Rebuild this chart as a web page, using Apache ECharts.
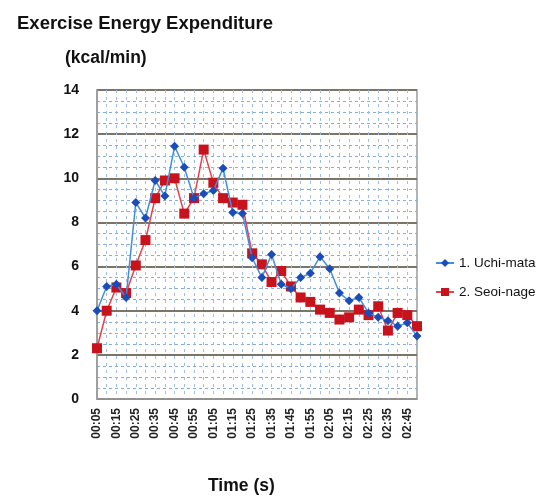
<!DOCTYPE html>
<html>
<head>
<meta charset="utf-8">
<script src="https://cdn.jsdelivr.net/npm/echarts@6/dist/echarts.min.js"></script>
<style>
html,body{margin:0;padding:0;background:#fff;}
#chart{width:544px;height:501px;}
</style>
</head>
<body>
<div id="chart"></div>
<script>
var times = ['00:05','00:10','00:15','00:20','00:25','00:30','00:35','00:40','00:45','00:50',
             '00:55','01:00','01:05','01:10','01:15','01:20','01:25','01:30','01:35','01:40',
             '01:45','01:50','01:55','02:00','02:05','02:10','02:15','02:20','02:25','02:30',
             '02:35','02:40','02:45','02:50'];
var uchiMata = [4.0,5.1,5.2,4.6,8.9,8.2,9.9,9.2,11.45,10.5,
                9.1,9.3,9.45,10.45,8.45,8.4,6.4,5.5,6.55,5.2,
                5.0,5.5,5.7,6.45,5.9,4.8,4.45,4.6,3.9,3.7,
                3.55,3.3,3.45,2.85];
var seoiNage = [2.3,4.0,5.05,4.8,6.05,7.2,9.1,9.9,10.0,8.4,
                9.1,11.3,9.8,9.1,8.9,8.8,6.6,6.1,5.3,5.8,
                5.1,4.6,4.4,4.05,3.9,3.6,3.7,4.05,3.8,4.2,
                3.1,3.9,3.8,3.3];
var yTicks = {min:0, max:14, interval:2};

var chart = echarts.init(document.getElementById('chart'), null, {renderer:'canvas'});
var fontFam = '"Liberation Sans", Arial, sans-serif';
chart.setOption({
  animation:false,
  backgroundColor:'#fff',
  title:[
    {text:'Exercise Energy Expenditure', left:12, top:9,
     textStyle:{fontFamily:fontFam, fontWeight:'bold', fontSize:18.5, color:'#111'}},
    {text:'(kcal/min)', left:60, top:44,
     textStyle:{fontFamily:fontFam, fontWeight:'bold', fontSize:17.5, color:'#111'}},
    {text:'Time (s)', left:203, top:472,
     textStyle:{fontFamily:fontFam, fontWeight:'bold', fontSize:17.5, color:'#111'}}
  ],
  legend:{
    orient:'vertical', left:430, top:251, itemGap:15, itemWidth:18, itemHeight:10,
    textStyle:{fontFamily:fontFam, fontSize:13.5, color:'#111'},
    data:['1. Uchi-mata','2. Seoi-nage']
  },
  grid:{left:97, right:127, top:90, bottom:102, show:true, borderColor:'#999', borderWidth:1.5},
  xAxis:{
    type:'category', data:times, boundaryGap:false,
    axisLine:{show:true, lineStyle:{color:'#999', width:1.5}},
    axisTick:{show:false},
    axisLabel:{interval:1, rotate:90, fontFamily:fontFam, fontWeight:'bold', fontSize:12, color:'#222', margin:9},
    splitLine:{show:true, interval:0, lineStyle:{color:'#9dbde2', type:[3,4], width:1}}
  },
  yAxis:{
    type:'value', min:yTicks.min, max:yTicks.max, interval:yTicks.interval,
    axisLine:{show:true, lineStyle:{color:'#999', width:1.5}},
    axisTick:{show:false},
    axisLabel:{fontFamily:fontFam, fontWeight:'bold', fontSize:14, color:'#111', margin:18},
    splitLine:{show:true, lineStyle:{color:'#7d7468', width:1.8}},
    minorTick:{show:false, splitNumber:4},
    minorSplitLine:{show:true, lineStyle:{color:'#86ade0', type:[3,3], width:1}}
  },
  series:[
    {name:'1. Uchi-mata', type:'line', data:uchiMata, symbol:'diamond', symbolSize:9, showAllSymbol:true,
     lineStyle:{color:'#3f8fe0', width:1.5}, itemStyle:{color:'#1a4db8'}, z:3},
    {name:'2. Seoi-nage', type:'line', data:seoiNage, symbol:'rect', symbolSize:10, showAllSymbol:true,
     lineStyle:{color:'#e8404a', width:1.5}, itemStyle:{color:'#c8121c'}, z:2}
  ]
});
</script>
</body>
</html>
